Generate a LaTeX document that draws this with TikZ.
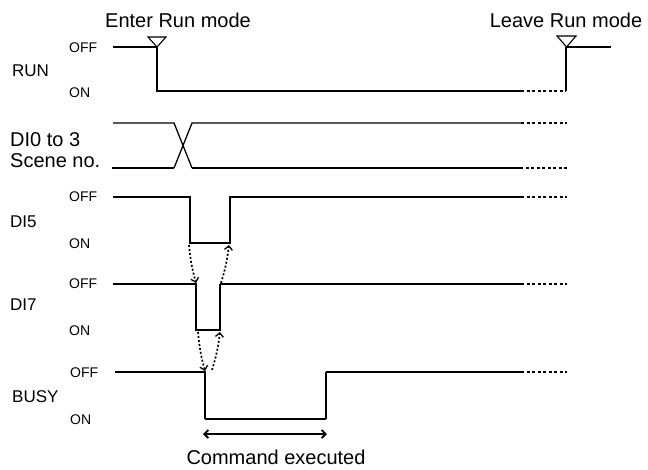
\documentclass[tikz,border=0pt]{standalone}
\usepackage{fontspec}
\setmainfont{Liberation Sans}
\usetikzlibrary{arrows.meta}
\begin{document}
\begin{tikzpicture}[x=1pt,y=-1pt,
  bigtxt/.style={font=\fontsize{20}{24}\selectfont, inner sep=0pt},
  sigtxt/.style={font=\fontsize{17}{19}\selectfont, inner sep=0pt, anchor=west},
  lvltxt/.style={font=\fontsize{14}{16}\selectfont, inner sep=0pt, anchor=west},
  thinline/.style={line width=1.3pt, line join=miter},
  thickline/.style={line width=2.5pt},
  dotthin/.style={line width=1.3pt, dash pattern=on 3pt off 2.5pt},
  dotthick/.style={line width=2.2pt, dash pattern=on 3pt off 2.5pt},
  tri/.style={line width=1.1pt, fill=white, line join=miter},
  cause/.style={line width=1.7pt, dash pattern=on 2pt off 2pt, -{Straight Barb[length=4pt,width=8pt,line width=1.3pt]}},
  span/.style={line width=1.8pt, {Straight Barb[length=4pt,width=8pt]}-{Straight Barb[length=4pt,width=8pt]}}
]
\useasboundingbox (0,0) rectangle (648,469);

% headings
\node[bigtxt, anchor=base] (enter) at (178,27) {Enter Run mode};
\node[bigtxt, anchor=base] (leave) at (566,27) {Leave Run mode};
\node[bigtxt, anchor=base] (cmd) at (276,464.5) {Command executed};

% signal names
\node[sigtxt] (run) at (12,71) {RUN};
\node[bigtxt, anchor=base west] (di0) at (10,146) {DI0 to 3};
\node[bigtxt, anchor=base west] (scene) at (10,167) {Scene no.};
\node[sigtxt] (di5) at (10,222) {DI5};
\node[sigtxt] (di7) at (10,305) {DI7};
\node[sigtxt] (busy) at (12,397) {BUSY};

% levels
\node[lvltxt] (runoff) at (69,48) {OFF};
\node[lvltxt] (runon) at (69,93) {ON};
\node[lvltxt] (di5off) at (69,197) {OFF};
\node[lvltxt] (di5on) at (69,244) {ON};
\node[lvltxt] (di7off) at (69,284) {OFF};
\node[lvltxt] (di7on) at (69,331) {ON};
\node[lvltxt] (busyoff) at (70,373) {OFF};
\node[lvltxt] (busyon) at (70,420) {ON};

% RUN
\draw[thickline] (113,47) -- (157,47);
\draw[thinline] (157,47) -- (157,91) -- (521,91);
\draw[dotthin] (521,91) -- (566,91);
\draw[thinline] (566,91) -- (566,47);
\draw[thickline] (566,47) -- (611,47);
\draw[tri] (148,37) -- (166,37) -- (157,47) -- cycle;
\draw[tri] (557,36) -- (576,36) -- (566.5,47) -- cycle;

% DI0 to 3
\draw[thinline] (113,123) -- (174,123) -- (192,168);
\draw[thinline] (174,168) -- (192,123) -- (521,123);
\draw[dotthin] (521,123) -- (567,123);
\draw[thickline] (112,168) -- (174,168);
\draw[thickline] (192,168) -- (520,168);
\draw[dotthick] (520,168) -- (567,168);

% DI5
\draw[thinline] (113,197) -- (190,197) -- (190,243) -- (230,243) -- (230,197) -- (521,197);
\draw[dotthin] (521,197) -- (567,197);

% DI7
\draw[thinline] (113,284) -- (196,284) -- (196,330) -- (220,330) -- (220,284);
\draw[thickline] (220,284) -- (521,284);
\draw[dotthick] (521,284) -- (567,284);

% BUSY
\draw[thinline] (115,372) -- (205,372) -- (205,419);
\draw[thickline] (205,419) -- (326,419);
\draw[thinline] (326,419) -- (326,372);
\draw[thickline] (326,372) -- (521,372);
\draw[dotthick] (521,372) -- (567,372);

% cause arrows
\coordinate (a1) at (189,245);
\coordinate (b1) at (196,283);
\coordinate (a2) at (221,283);
\coordinate (b2) at (229,245);
\coordinate (a3) at (198,332);
\coordinate (b3) at (205,371);
\coordinate (a4) at (212,370);
\coordinate (b4) at (220,332);
\draw[cause] (a1) to[bend right=5] (b1);
\draw[cause] (a2) to[bend right=5] (b2);
\draw[cause] (a3) to[bend right=5] (b3);
\draw[cause] (a4) to[bend right=5] (b4);

% command executed span
\coordinate (s1) at (203,434);
\coordinate (s2) at (327,434);
\draw[span] (s1) -- (s2);
\end{tikzpicture}
\end{document}
